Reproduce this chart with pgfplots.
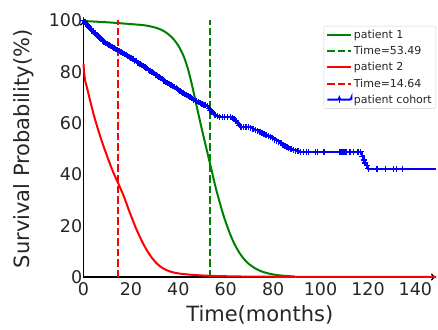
\documentclass[border=0pt]{standalone}
\usepackage{fontspec}
\setmainfont{DejaVu Sans}
\usepackage{pgfplots}
\pgfplotsset{compat=1.18}
\usetikzlibrary{arrows.meta}
\definecolor{mplgreen}{rgb}{0,0.5,0}
\definecolor{txt}{HTML}{262626}
\begin{document}
\begin{tikzpicture}
\begin{axis}[
  name=ax,
  scale only axis,
  width=352.5pt, height=256.5pt,
  xmin=0, xmax=148.7, ymin=0, ymax=100,
  clip=false,
  axis lines=left,
  axis line style={black, line width=1.3pt, -{To[length=5pt,width=7pt]}},
  major tick length=0pt,
  xtick={0,20,...,140}, ytick={0,20,...,100},
  /pgf/number format/assume math mode=true,
  ticklabel style={font=\fontsize{17.5}{20}\selectfont, text=txt},
  xticklabel style={yshift=-2.2pt},
  yticklabel style={xshift=2.3pt},
  every axis x label/.style={at={(axis description cs:0.5,0)}, anchor=center, yshift=-38pt, font=\fontsize{21}{24}\selectfont, text=txt},
  every axis y label/.style={at={(axis description cs:0,0.5)}, anchor=center, xshift=-59.5pt, rotate=90, font=\fontsize{21}{24}\selectfont, text=txt},
  xlabel={Time(months)},
  ylabel={Survival Probability(\%)},
  legend cell align=left,
  legend style={at={(rel axis cs:1,0.9786)}, anchor=north east, draw=black!18, rounded corners=2pt, fill=white,
    font=\fontsize{11}{12}\selectfont, text=txt, inner sep=2.5pt, row sep=3.3pt, nodes={inner sep=1.5pt}},
  legend image code/.code={\draw[mark repeat=2,mark phase=2] plot coordinates {(-2pt,0pt) (10pt,0pt) (22pt,0pt)};},
]
% patient 1
\addplot[mplgreen, line width=2pt, smooth] coordinates {
(0,99.8)(10,99.3)(20,98.6)(26,98.1)(30,97.3)(32,96.7)(34,95.8)(36,94.5)(38,92.7)(40,90.2)(42,86.6)(43,84.2)(44,81.3)(45,77.8)(46,73.9)(47,69.7)(48,65.5)(49,61.4)(50,57.3)(51,53.4)(52,49.5)(53,45.6)(54,41.8)(55,37.8)(56,34.0)(57,30.6)(58,27.3)(59,24.2)(60,21.4)(61,18.8)(62,16.4)(63,14.2)(64,12.3)(65,10.6)(66,9.1)(67,7.8)(68,6.7)(69,5.7)(70,4.9)(72,3.6)(74,2.6)(76,1.9)(78,1.4)(80,1.0)(83,0.6)(86,0.4)(89,0.2)
};
\addlegendentry{patient 1}
\addplot[mplgreen, line width=2pt, dash pattern=on 7.5pt off 3pt] coordinates {(53.49,0)(53.49,100)};
\addlegendentry{Time=53.49}
% patient 2
\addplot[red, line width=2pt, smooth] coordinates {
(0,83)(0.3,79.5)(0.7,76.6)(1.3,74.4)(2,71.8)(3,68.0)(4,64.4)(5,61.0)(6,57.9)(7,55.0)(8,52.2)(9,49.6)(10,47.0)(11,44.5)(12,42.1)(13,39.9)(14,37.8)(15,35.8)(16,33.7)(17,31.5)(18,29.0)(19,26.4)(20,24.0)(21,21.6)(22,19.3)(23,17.2)(24,15.2)(25,13.3)(26,11.6)(27,10.0)(28,8.6)(29,7.3)(30,6.2)(31,5.2)(32,4.4)(33,3.7)(35,2.7)(37,2.0)(40,1.4)(45,0.9)(50,0.6)(55,0.4)(60,0.3)(70,0.15)(80,0.1)(100,0.05)(148.7,0.02)
};
\addlegendentry{patient 2}
\addplot[red, line width=2pt, dash pattern=on 7.5pt off 3pt] coordinates {(14.64,0)(14.64,100)};
\addlegendentry{Time=14.64}
% cohort
\addplot[blue, line width=2pt, const plot, mark=+, mark size=3pt, mark options={line width=1.3pt, solid}] coordinates {
(0,100)(0.6,99.4)(1.1,98.6)(1.7,97.9)(2.3,97.3)(3.0,96.8)(3.6,96.1)(4.2,95.6)(4.9,95.0)(5.5,94.3)(6.1,93.8)(6.8,93.2)(7.4,92.6)(8.1,92.2)(8.7,91.8)(9.4,91.1)(10.0,90.7)(10.7,90.4)(11.5,89.9)(12.2,89.6)(12.9,89.3)(13.6,89.0)(14.3,88.6)(15.1,88.0)(15.8,87.7)(16.5,87.4)(17.2,86.9)(18.0,86.5)(18.7,86.2)(19.4,85.8)(20.1,85.4)(20.9,85.0)(21.6,84.4)(22.3,84.1)(23.0,83.6)(23.8,83.2)(24.5,82.7)(25.2,82.3)(26.0,81.8)(26.7,81.3)(27.4,80.7)(28.1,80.4)(28.9,79.8)(29.6,79.5)(30.3,78.9)(31.1,78.5)(31.8,78.0)(32.5,77.6)(33.2,77.1)(34.0,76.6)(34.7,76.1)(35.4,75.8)(36.2,75.2)(36.9,74.8)(37.6,74.4)(38.3,73.9)(39.1,73.5)(39.8,73.1)(40.5,72.6)(41.3,72.1)(42.0,71.7)(42.7,71.3)(43.5,70.8)(44.2,70.5)(44.9,70.0)(45.6,69.6)(46.4,69.2)(47.1,68.8)(47.8,68.5)(48.6,68.1)(49.3,67.8)(50.0,67.5)(50.8,67.1)(51.5,66.9)(52.2,66.5)(52.9,65.7)(53.4,65.0)(54.0,64.3)(54.7,63.8)(55.5,63.3)(56.5,62.7)(57.5,62.3)(58.5,62.3)(59.6,62.3)(60.8,62.3)(62.0,62.3)(63.0,62.0)(63.6,61.5)(64.3,60.8)(65.0,59.9)(65.8,59.1)(66.5,58.6)(67.5,58.6)(68.6,58.6)(69.7,58.6)(70.5,58.2)(71.5,57.8)(72.5,57.3)(73.5,57.0)(74.5,56.5)(75.3,56.0)(76.2,55.6)(77.0,55.3)(78.0,54.8)(79.0,54.4)(79.8,54.0)(80.6,53.5)(81.5,53.1)(82.4,52.7)(83.3,52.2)(84.2,51.6)(85.0,51.1)(85.8,50.7)(86.6,50.2)(87.5,49.9)(88.5,49.6)(89.5,49.3)(90.5,49.0)(91.5,48.8)(92.7,48.8)(94.2,48.8)(95.0,48.8)(98.0,48.8)(98.6,48.8)(101.2,48.8)(101.8,48.8)(108.2,48.8)(109.0,48.8)(109.6,48.8)(110.3,48.8)(111.0,48.8)(112.4,48.8)(114.0,48.8)(115.8,48.8)(116.9,48.8)(117.6,47.0)(118.2,45.6)(118.8,44.5)(119.4,43.4)(120.2,42.3)(123.8,42.3)(127.3,42.3)(130.8,42.3)(132.0,42.3)(134.7,42.3)
};
\addlegendentry{patient cohort}
\addplot[blue, line width=2pt, forget plot] coordinates {(134.7,42.3)(148.7,42.3)};
\end{axis}
\pgfresetboundingbox
\path (ax.south west) ++(-83.5pt,-52pt) rectangle ++(438pt,329pt);
\end{tikzpicture}
\end{document}
